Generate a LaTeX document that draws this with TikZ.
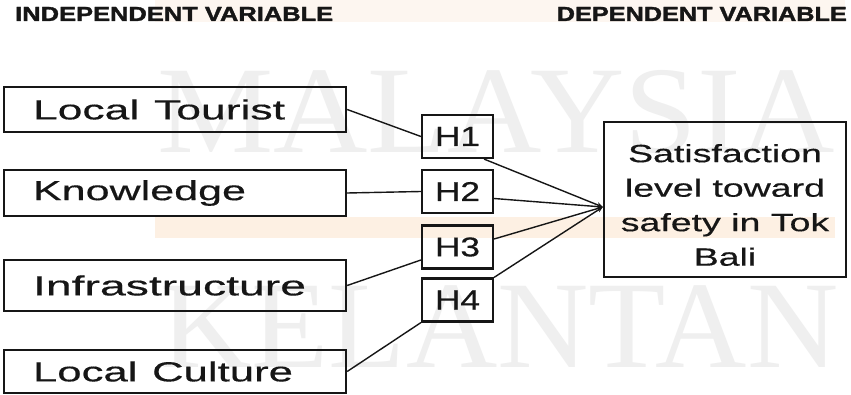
\documentclass[tikz,border=0pt]{standalone}
\usepackage{fontspec}
\setmainfont{Liberation Sans}[FakeBold=0.35]
\newfontfamily\headfont{Liberation Sans Bold}[FakeBold=1.6]
\newfontfamily\wmfont{Liberation Serif}
\usetikzlibrary{arrows.meta}
\definecolor{ink}{HTML}{161616}
\definecolor{wm}{HTML}{EFEFEF}
\definecolor{bandA}{HTML}{FDF6F0}
\definecolor{bandB}{HTML}{FDF0E3}
\tikzset{
  varbox/.style={draw=ink, line width=2.4pt, minimum height=#1, inner xsep=29pt,
    text width=284pt, align=left, inner ysep=0pt, text=ink},
  hbox/.style={draw=ink, line width=2.2pt, minimum width=71pt, minimum height=43pt,
    inner sep=0pt, text=ink},
  satbox/.style={draw=ink, line width=2.4pt, minimum width=242pt, minimum height=155pt, inner sep=0pt},
  link/.style={draw=ink, line width=1.4pt},
  arr/.style={link, -{Stealth[length=6pt,width=5pt]}},
  head/.style={text=ink, inner sep=0pt, font=\headfont\fontsize{20}{20}\selectfont},
  wmark/.style={text=wm, inner sep=0pt, font=\wmfont\fontsize{124}{124}\selectfont},
  sattext/.style={text=ink, inner sep=0pt, align=center, font=\fontsize{25}{34.5}\selectfont},
}
\newcommand\fitlab[2]{\resizebox{#1pt}{20pt}{#2}}
\newcommand\hlab[1]{\resizebox{45pt}{19pt}{#1}}
\newcommand\satline[1]{\scalebox{1.5}[1]{#1}}
\begin{document}
\begin{tikzpicture}[x=1pt,y=-1pt]
\useasboundingbox (0,0) rectangle (851,395);
\fill[white] (0,0) rectangle (851,395);
% background bands
\fill[bandA] (155,0) rectangle (845,22);
\fill[bandB] (155,217) rectangle (835,238);
% watermark
\node[wmark, anchor=base west] (wm1) at (157,153) {\scalebox{1.054}[1]{MALAYSIA}};
\node[wmark, anchor=base west] (wm2) at (160,367) {\scalebox{1.02}[1]{KELANTAN}};
% headers
\node[head, anchor=base west] (hi) at (15,21) {\resizebox{318pt}{14pt}{INDEPENDENT VARIABLE}};
\node[head, anchor=base east] (hd) at (847,21) {\resizebox{290pt}{14pt}{DEPENDENT VARIABLE}};
% independent variables
\node[varbox=45pt] (lt)  at (175,109.5) {\fitlab{252}{Local Tourist}};
\node[varbox=46pt] (kn)  at (175,193)   {\fitlab{213}{Knowledge}};
\node[varbox=51pt] (inf) at (175,285.5) {\fitlab{273}{Infrastructure}};
\node[varbox=43pt] (lc)  at (175,371.5) {\fitlab{260}{Local Culture}};
% hypotheses
\node[hbox] (h1) at (457.5,136.5) {\hlab{H1}};
\node[hbox] (h2) at (457.5,191.5) {\hlab{H2}};
\node[hbox] (h3) at (457.5,247)   {\hlab{H3}};
\node[hbox] (h4) at (457.5,300)   {\hlab{H4}};
% dependent variable
\node[satbox] (sat) at (725,199.5) {};
\node[sattext] (satx) at (725,205) {\satline{Satisfaction}\\\satline{level toward}\\\satline{safety in Tok}\\\satline{Bali}};
\coordinate (tgt) at ([yshift=-7.5pt]sat.west);
% connectors
\draw[link] (lt.east) -- (h1.west);
\draw[link] (kn.east) -- (h2.west);
\draw[link] (inf.east) -- ([yshift=-13pt]h3.west);
\draw[link] (lc.east) -- (h4.south west);
\draw[arr] ([xshift=-10pt]h1.south east) -- (tgt);
\draw[arr] ([yshift=-7pt]h2.east) -- (tgt);
\draw[arr] ([yshift=8pt]h3.east) -- (tgt);
\draw[arr] (h4.north east) -- (tgt);
\end{tikzpicture}
\end{document}
